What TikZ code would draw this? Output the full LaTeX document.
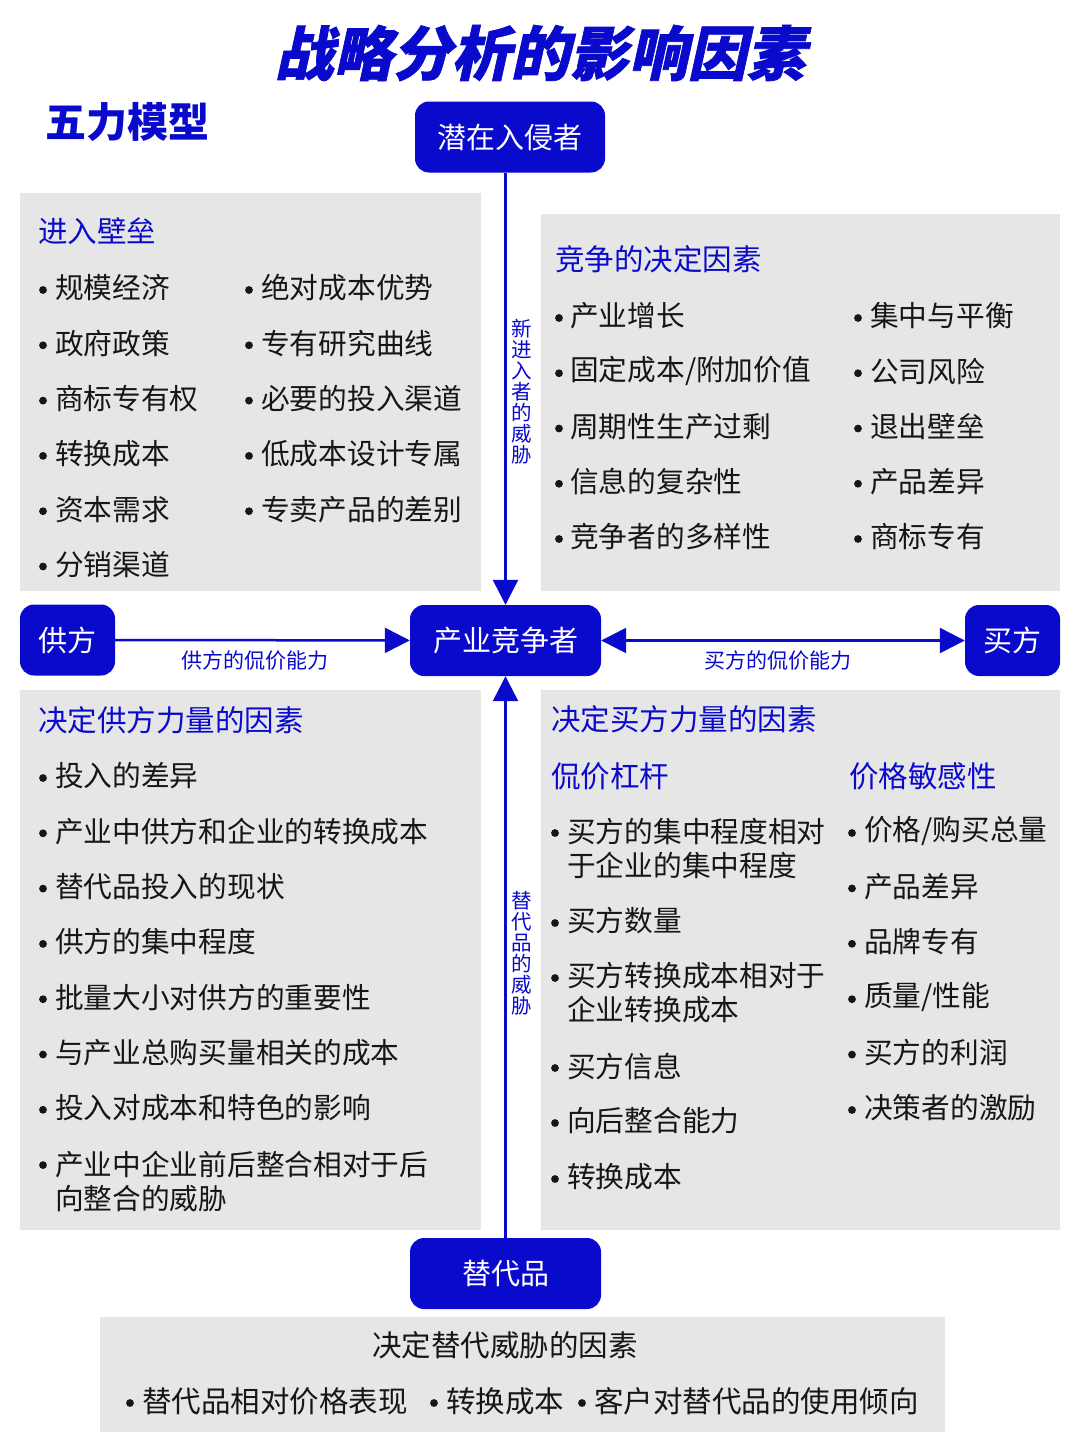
\documentclass[tikz,border=0pt]{standalone}
\usepackage{fontspec}
\setmainfont{Noto Sans CJK SC}
\newfontfamily\titlefont[FakeSlant=0.22,BoldFeatures={FakeSlant=0.22,FakeBold=1.2}]{Noto Sans CJK SC}
\usetikzlibrary{arrows.meta,positioning}
\definecolor{forceblue}{HTML}{0A0ACC}
\definecolor{panelgray}{HTML}{E6E6E6}
\definecolor{itemink}{HTML}{161616}
\tikzset{
	force/.style={rounded corners=14pt, fill=forceblue, text=white, inner sep=0pt,
		minimum height=71pt, font=\fontsize{29}{32}\selectfont},
	panel/.style={fill=panelgray},
	head/.style={anchor=west, inner sep=0pt, text=forceblue, font=\fontsize{29.5}{34}\selectfont},
	item/.style={anchor=west, inner sep=0pt, align=left, text=itemink,
		font=\fontsize{28.7}{34}\selectfont},
	dot/.style={fill=itemink},
	threat/.style={inner sep=0pt, align=center, text=forceblue, font=\fontsize{20.5}{21}\selectfont},
	power/.style={inner sep=0pt, text=forceblue, font=\fontsize{21}{22}\selectfont},
	link/.style={draw=forceblue, line width=2.5pt},
	tip/.style={-{Triangle[length=25pt,width=25pt]}},
	twotip/.style={{Triangle[length=25pt,width=25pt]}-{Triangle[length=25pt,width=25pt]}},
}
\begin{document}
\begin{tikzpicture}[x=1pt, y=-1pt]
	\useasboundingbox[fill=white] (0,0) rectangle (1080,1444);
	% titles
	\node[inner sep=0pt, text=forceblue, font=\titlefont\bfseries\fontsize{59}{62}\selectfont]
		(title) at (540,53) {战略分析的影响因素};
	\node[anchor=west, inner sep=0pt, text=forceblue, font=\bfseries\fontsize{41}{44}\selectfont]
		(model) at (45,122) {五力模型};
	% grey panels
	\fill[panel] (20,193) rectangle (481,591);
	\fill[panel] (541,214) rectangle (1060,591);
	\fill[panel] (20,690) rectangle (481,1230);
	\fill[panel] (541,690) rectangle (1060,1230);
	\fill[panel] (100,1317) rectangle (945,1432);
	% the five forces
	\node[force, minimum width=190pt] (entrant) at (510,137) {潜在入侵者};
	\node[force, minimum width=191pt] (rival) at (505.5,640.5) {产业竞争者};
	\node[force, minimum width=95pt] (supplier) at (67.5,640) {供方};
	\node[force, minimum width=95pt] (buyer) at (1012.5,640.5) {买方};
	\node[force, minimum width=191pt] (subst) at (505.5,1273.5) {替代品};
	% connectors
	\draw[link, tip] (entrant.south -| rival.north) -- (rival.north);
	\draw[link, tip] (subst) -- (rival);
	\draw[link, tip] (supplier) -- (rival);
	\draw[link, twotip] (rival) -- (buyer);
	\node[threat] (newthreat) at (522,392) {新\\进\\入\\者\\的\\威\\胁};
	\node[threat] (substthreat) at (522,953) {替\\代\\品\\的\\威\\胁};
	\node[power] (supplierpower) at (255,661) {供方的侃价能力};
	\node[power] (buyerpower) at (778,661) {买方的侃价能力};
	% entry barriers
	\node[head] (barrier) at (38,231) {进入壁垒};
	\foreach \txt [count=\i from 0] in {规模经济,政府政策,商标专有权,转换成本,资本需求,分销渠道} {
		\fill[dot] (43,290+55.3*\i) circle[radius=3.9];
		\node[item] (barrier-a\i) at (55,288+55.3*\i) {\txt};
	}
	\foreach \txt [count=\i from 0] in {绝对成本优势,专有研究曲线,必要的投入渠道,低成本设计专属,专卖产品的差别} {
		\fill[dot] (249,290+55.3*\i) circle[radius=3.9];
		\node[item] (barrier-b\i) at (261,288+55.3*\i) {\txt};
	}
	% rivalry
	\node[head] (rivalry) at (555,259) {竞争的决定因素};
	\foreach \txt [count=\i from 0] in {产业增长,固定成本/附加价值,周期性生产过剩,信息的复杂性,竞争者的多样性} {
		\fill[dot] (559,318+55.25*\i) circle[radius=3.9];
		\node[item] (rivalry-a\i) at (570,316+55.25*\i) {\txt};
	}
	\foreach \txt [count=\i from 0] in {集中与平衡,公司风险,退出壁垒,产品差异,商标专有} {
		\fill[dot] (858,318+55.25*\i) circle[radius=3.9];
		\node[item] (rivalry-b\i) at (870,316+55.25*\i) {\txt};
	}
	% supplier power
	\node[head] (supply) at (38,720) {决定供方力量的因素};
	\foreach \i in {0,...,7}
		\fill[dot] (43,778+55.3*\i) circle[radius=3.9];
	\foreach \txt [count=\i from 0] in {投入的差异,产业中供方和企业的转换成本,替代品投入的现状,供方的集中程度,
		批量大小对供方的重要性,与产业总购买量相关的成本,投入对成本和特色的影响}
		\node[item] (supply-\i) at (55,776+55.3*\i) {\txt};
	\node[item] (supply-7) at (55,1181) {产业中企业前后整合相对于后\\向整合的威胁};
	% buyer power
	\node[head] (demand) at (551,719) {决定买方力量的因素};
	\node[head] (lever) at (551,776) {侃价杠杆};
	\node[head] (sensitivity) at (849,776) {价格敏感性};
	\foreach \y in {833,923,978,1068,1123,1179}
		\fill[dot] (555,\y) circle[radius=3.9];
	\node[item] (lever-0) at (567,848) {买方的集中程度相对\\于企业的集中程度};
	\node[item] (lever-1) at (567,921) {买方数量};
	\node[item] (lever-2) at (567,993) {买方转换成本相对于\\企业转换成本};
	\node[item] (lever-3) at (567,1066) {买方信息};
	\node[item] (lever-4) at (567,1121) {向后整合能力};
	\node[item] (lever-5) at (567,1177) {转换成本};
	\foreach \txt [count=\i from 0] in {价格/购买总量,产品差异,品牌专有,质量/性能,买方的利润,决策者的激励} {
		\fill[dot] (852,833+55.4*\i) circle[radius=3.9];
		\node[item] (sensitivity-\i) at (864,831+55.4*\i) {\txt};
	}
	% substitutes
	\node[inner sep=0pt, text=itemink, font=\fontsize{29.5}{34}\selectfont] (substhead) at (505,1345) {决定替代威胁的因素};
	\foreach \x/\txt [count=\i from 0] in {142/替代品相对价格表现,446/转换成本,594/客户对替代品的使用倾向} {
		\fill[dot] (\x-12,1403) circle[radius=3.9];
		\node[item, font=\fontsize{29.5}{34}\selectfont] (subst-\i) at (\x,1401) {\txt};
	}
\end{tikzpicture}
\end{document}
